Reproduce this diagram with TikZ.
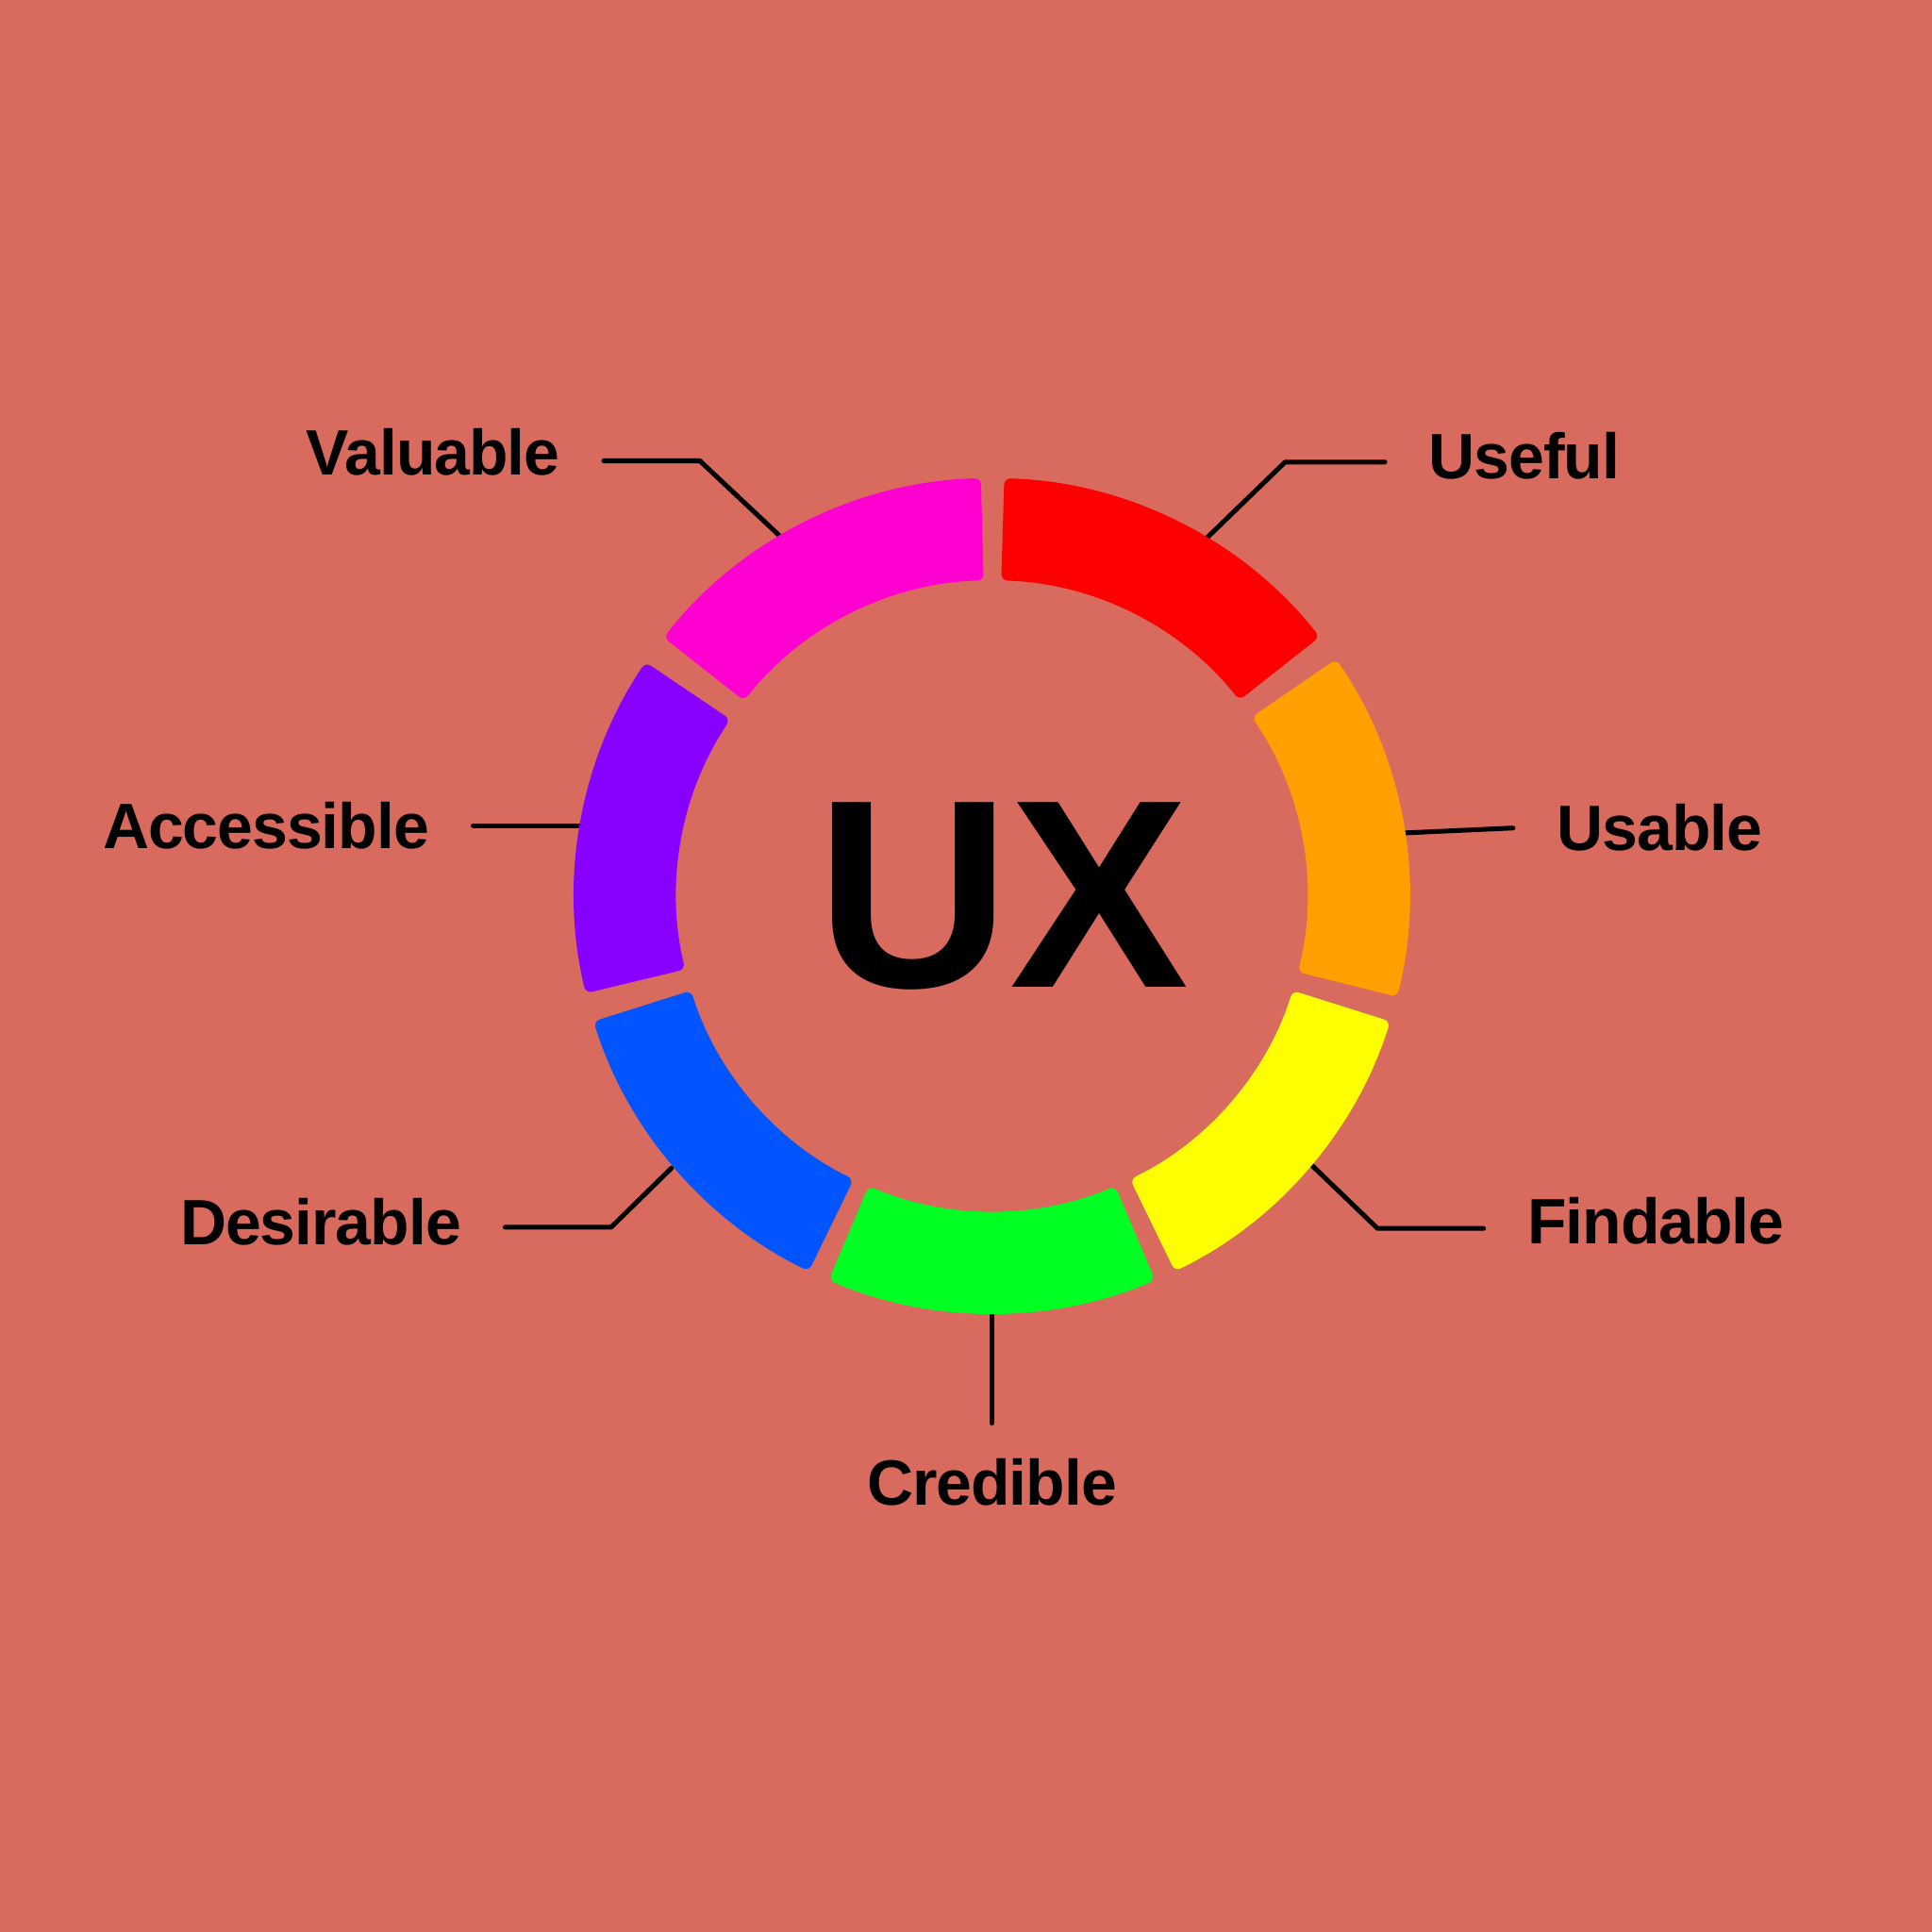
\documentclass[tikz,border=0pt]{standalone}
\usepackage{fontspec}
\setmainfont{Liberation Sans}
\newfontfamily\labfont{Liberation Sans}[LetterSpace=-1.5]
\usepackage{xcolor}
\usepackage{tikz}
\usetikzlibrary{positioning,calc}
\definecolor{uxbg}{RGB}{217,107,94}
\definecolor{uxred}{RGB}{255,0,0}
\definecolor{uxmagenta}{RGB}{255,0,208}
\definecolor{uxpurple}{RGB}{136,0,255}
\definecolor{uxblue}{RGB}{0,85,255}
\definecolor{uxgreen}{RGB}{0,255,34}
\definecolor{uxyellow}{RGB}{255,255,0}
\definecolor{uxorange}{RGB}{255,160,0}

\begin{document}
\begin{tikzpicture}[
    lab/.style={font=\labfont\fontsize{14.8}{18}\selectfont\bfseries, inner xsep=0.35cm, inner ysep=0.28cm},
    leader/.style={line width=1.1pt, line cap=round, line join=round}
]
% UX honeycomb ring, centre at origin
\def\rout{3.39}
\def\rin{2.56}

% Background
\fill[uxbg] (-8.05,-8.41) rectangle (7.63,7.27);
\useasboundingbox (-8.05,-8.41) rectangle (7.63,7.27);

% Points where the leaders meet the ring
\coordinate (user) at (1.73,2.89);
\coordinate (valr) at (-1.70,2.90);
\coordinate (accr) at (-3.35,0.57);
\coordinate (usar) at (3.35,0.51);
\coordinate (desr) at (-2.60,-2.21);
\coordinate (finr) at (2.60,-2.19);
\coordinate (crer) at (0,-3.40);
% Bends
\coordinate (useb) at (2.38,3.52);
\coordinate (valb) at (-2.37,3.53);
\coordinate (desb) at (-3.09,-2.69);
\coordinate (finb) at (3.13,-2.70);

% Labels
\node[lab, anchor=west] (use) at (3.19,3.57) {Useful};
\node[lab, anchor=east] (val) at (-3.15,3.60) {Valuable};
\node[lab, anchor=east] (acc) at (-4.21,0.57) {Accessible};
\node[lab, anchor=west] (usa) at (4.23,0.55) {Usable};
\node[lab, anchor=east] (des) at (-3.95,-2.65) {Desirable};
\node[lab, anchor=west] (fin) at (3.99,-2.64) {Findable};
\node[lab, anchor=north] (cre) at (0,-4.28) {Credible};

% Leaders
\draw[leader] (use.west |- useb) -- (useb) -- (user);
\draw[leader] (val.east |- valb) -- (valb) -- (valr);
\draw[leader] (acc.east) -- (accr);
\draw[leader] (usa.west) -- (usar);
\draw[leader] (des.east |- desb) -- (desb) -- (desr);
\draw[leader] (fin.west |- finb) -- (finb) -- (finr);
\draw[leader] (cre.north) -- (crer);

% Ring segments (start/end angle/colour)
\foreach \a/\b/\col in {38.3/88.3/uxred, 91.5/141.8/uxmagenta, 146/193.5/uxpurple,
    197.5/244/uxblue, 247/293/uxgreen, 296/342.5/uxyellow, 346/394.5/uxorange} {
    \fill[\col, rounded corners=1.5pt] (\a:\rout) arc[start angle=\a, end angle=\b, radius=\rout]
        -- (\b:\rin) arc[start angle=\b, end angle=\a, radius=\rin] -- cycle;
}

% Centre
\node[font=\bfseries\fontsize{62}{68}\selectfont, inner sep=0pt] (ux) at (0.09,0) {UX};

\end{tikzpicture}
\end{document}
